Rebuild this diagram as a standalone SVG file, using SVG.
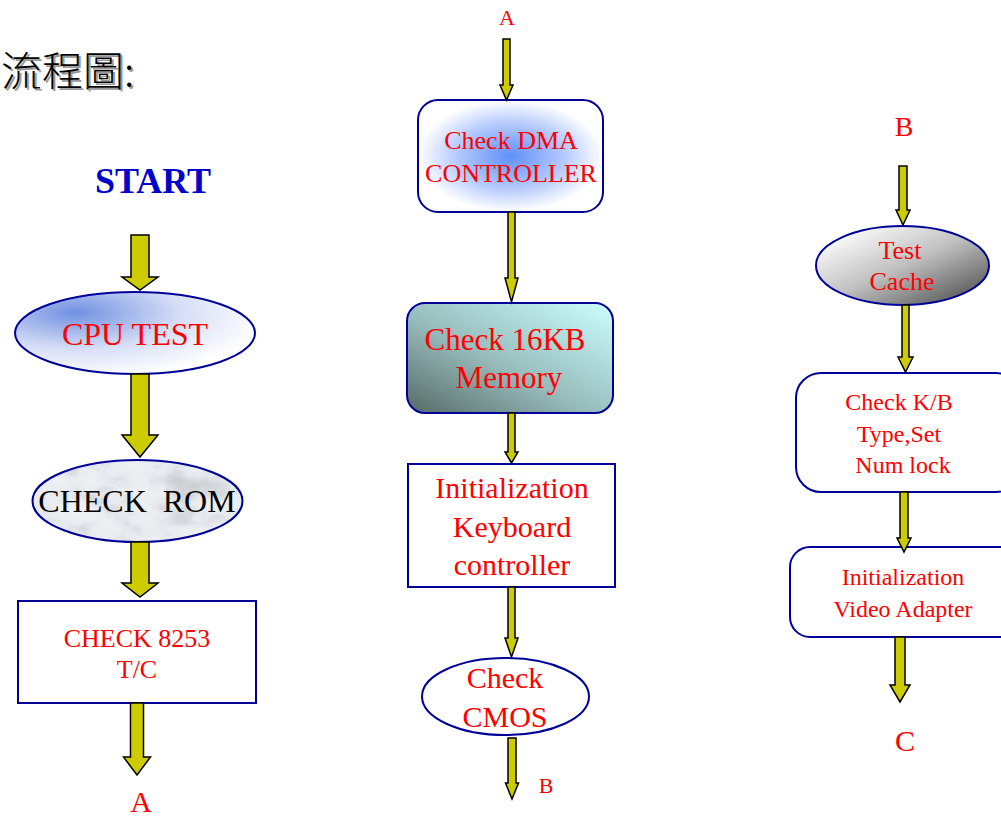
<svg xmlns="http://www.w3.org/2000/svg" width="1001" height="820" viewBox="0 0 1001 820">
<style>
.arr{fill:#cccc00;stroke:#000;stroke-width:1.5;stroke-linejoin:miter}
.nb{stroke:#000099;stroke-width:2}
.t{font-family:"Liberation Serif","Times New Roman",serif;fill:#ff0000;text-anchor:middle}
</style>
<defs>
<radialGradient id="gCpu" cx="0.25" cy="0.25" r="0.8">
<stop offset="0" stop-color="#7090e0"/><stop offset="0.55" stop-color="#d6def6"/><stop offset="1" stop-color="#ffffff"/>
</radialGradient>
<radialGradient id="gDma" cx="0.5" cy="0.5" r="0.5">
<stop offset="0" stop-color="#5f8ff8"/><stop offset="0.6" stop-color="#b8ccfc"/><stop offset="1" stop-color="#ffffff"/>
</radialGradient>
<linearGradient id="gMem" x1="0" y1="1" x2="1" y2="0">
<stop offset="0" stop-color="#566a66"/><stop offset="0.45" stop-color="#98bcbc"/><stop offset="1" stop-color="#ccffff"/>
</linearGradient>
<linearGradient id="gCache" x1="0.1" y1="0.1" x2="0.9" y2="0.9">
<stop offset="0" stop-color="#ffffff"/><stop offset="0.5" stop-color="#c0c0c0"/><stop offset="1" stop-color="#5a5a5a"/>
</linearGradient>
<filter id="marble" x="0" y="0" width="1" height="1">
<feTurbulence type="fractalNoise" baseFrequency="0.025 0.04" numOctaves="4" seed="3" result="n"/>
<feColorMatrix in="n" type="matrix" values="0 0 0 0 0.9  0 0 0 0 0.91  0 0 0 0 0.93  -1.6 0 0 0 1.05" result="c"/>
<feFlood flood-color="#e4e8ec" result="bg"/>
<feComposite in="c" in2="bg" operator="over" result="m0"/>
<feColorMatrix in="n" type="matrix" values="0 0 0 0 0.55  0 0 0 0 0.56  0 0 0 0 0.58  2.2 0 0 0 -1.05" result="d"/>
<feComposite in="d" in2="m0" operator="over" result="m"/>
<feComposite in="m" in2="SourceGraphic" operator="in"/>
</filter>
</defs>
<rect width="1001" height="820" fill="#ffffff"/>

<g id="title">
<text x="3" y="88" font-family="Noto Sans CJK TC, sans-serif" font-size="41" font-weight="300" fill="#999999">流程圖:</text>
<text x="1" y="86" font-family="Noto Sans CJK TC, sans-serif" font-size="41" font-weight="300" fill="#000000">流程圖:</text>
</g>

<g id="start"><text x="153" y="193" font-family="Liberation Serif, serif" font-size="36" font-weight="bold" fill="#0000cc" text-anchor="middle">START</text></g>

<g id="cpu_test">
<ellipse cx="135" cy="333" rx="120" ry="41" fill="url(#gCpu)" class="nb"/>
<text class="t" x="135" y="345" font-size="32">CPU TEST</text>
</g>

<g id="check_rom">
<ellipse cx="137.5" cy="501" rx="105" ry="41" fill="#dde2e8" filter="url(#marble)"/>
<ellipse cx="137.5" cy="501" rx="105" ry="41" fill="none" class="nb"/>
<text x="137" y="512" font-family="Liberation Serif, serif" font-size="32" fill="#000" text-anchor="middle" xml:space="preserve">CHECK  ROM</text>
</g>

<g id="check_8253">
<rect x="18" y="601" width="238" height="102" fill="#ffffff" class="nb"/>
<text class="t" x="137" y="647" font-size="26">CHECK 8253</text>
<text class="t" x="137" y="678" font-size="26">T/C</text>
</g>

<g id="label_a_bottom"><text class="t" x="141" y="812" font-size="30">A</text></g>
<g id="label_a_top"><text class="t" x="507" y="25" font-size="22">A</text></g>

<g id="check_dma">
<rect x="418" y="100" width="185" height="112" rx="20" fill="url(#gDma)" class="nb"/>
<text class="t" x="511" y="149" font-size="26">Check DMA</text>
<text class="t" x="511" y="182" font-size="26">CONTROLLER</text>
</g>

<g id="check_16kb">
<rect x="407" y="303" width="206" height="110" rx="18" fill="url(#gMem)" class="nb"/>
<text class="t" x="505" y="350" font-size="31">Check 16KB</text>
<text class="t" x="509" y="388" font-size="31">Memory</text>
</g>

<g id="init_kb">
<rect x="408" y="464" width="207" height="123" fill="#ffffff" class="nb"/>
<text class="t" x="512" y="498" font-size="30">Initialization</text>
<text class="t" x="512" y="537" font-size="30">Keyboard</text>
<text class="t" x="512" y="575" font-size="30">controller</text>
</g>

<g id="check_cmos">
<ellipse cx="505.5" cy="696.5" rx="83.5" ry="38.5" fill="#ffffff" class="nb"/>
<text class="t" x="505" y="688" font-size="30">Check</text>
<text class="t" x="505" y="727" font-size="30">CMOS</text>
</g>

<g id="label_b_mid"><text class="t" x="546" y="793" font-size="22">B</text></g>
<g id="label_b_right"><text class="t" x="904" y="136" font-size="28">B</text></g>

<g id="test_cache">
<ellipse cx="902.5" cy="265.5" rx="86.5" ry="39.5" fill="url(#gCache)" class="nb"/>
<text class="t" x="900" y="259" font-size="26">Test</text>
<text class="t" x="902" y="290" font-size="26">Cache</text>
</g>

<g id="check_kb_type">
<rect x="796" y="373" width="225" height="119" rx="25" fill="#ffffff" class="nb"/>
<text class="t" x="899" y="410" font-size="24">Check K/B</text>
<text class="t" x="899" y="442" font-size="24">Type,Set</text>
<text class="t" x="903" y="473" font-size="24">Num lock</text>
</g>

<g id="init_video">
<rect x="790" y="547" width="231" height="90" rx="20" fill="#ffffff" class="nb"/>
<text class="t" x="903" y="585" font-size="24">Initialization</text>
<text class="t" x="903" y="617" font-size="24">Video Adapter</text>
</g>

<g id="label_c"><text class="t" x="905" y="751" font-size="30">C</text></g>

<g id="connectors">
<path class="arr" d="M131,235 H149 V277 H158 L140,290 L122,277 H131 Z"/>
<path class="arr" d="M131,374 H149 V435 H158 L140,457 L122,435 H131 Z"/>
<path class="arr" d="M131,542 H149 V583 H158 L140,597 L122,583 H131 Z"/>
<path class="arr" d="M130.5,703 H143.5 V757 H150.5 L137,775 L123.5,757 H130.5 Z"/>
<path class="arr" d="M503,39 H510 V85 H513 L506.5,100 L500,85 H503 Z"/>
<path class="arr" d="M508,212 H515 V278 H518 L511.5,302 L505,278 H508 Z"/>
<path class="arr" d="M508,413 H515 V452 H518 L511.5,463 L505,452 H508 Z"/>
<path class="arr" d="M508,587 H515 V638 H518 L511.5,657 L505,638 H508 Z"/>
<path class="arr" d="M508,738 H516 V783 H518.5 L512,799 L505.5,783 H508 Z"/>
<path class="arr" d="M899,166 H907 V210 H910 L903,225 L896,210 H899 Z"/>
<path class="arr" d="M902,305 H909 V357 H913 L905.5,372 L898,357 H902 Z"/>
<path class="arr" d="M900,492 H908 V538 H911 L904,552 L897,538 H900 Z"/>
<path class="arr" d="M895,637 H905 V685 H910 L900,702 L890,685 H895 Z"/>
</g>
</svg>
